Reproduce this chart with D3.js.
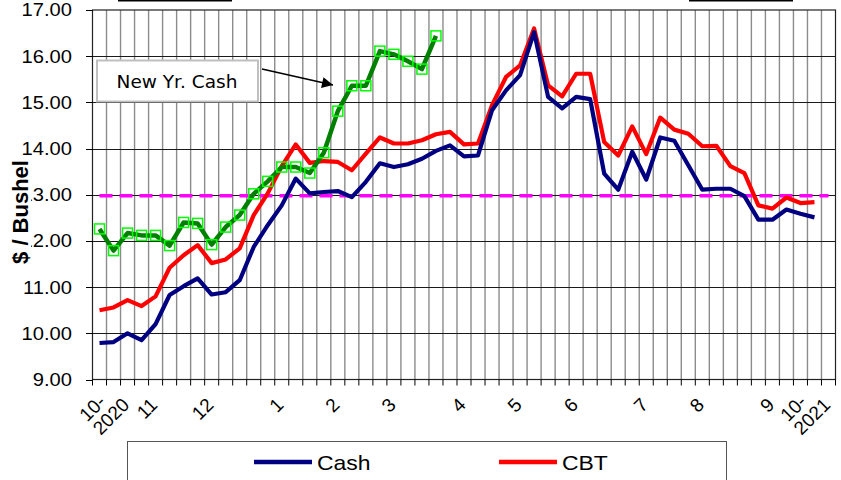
<!DOCTYPE html>
<html>
<head>
<meta charset="utf-8">
<script src="https://cdn.jsdelivr.net/npm/d3@7"></script>
<style>
  html, body { margin: 0; padding: 0; background: #fff; }
  svg { display: block; }
</style>
</head>
<body>
<div id="chart"></div>
<script>
const width = 841;
const height = 480;

// weekly categories, Oct 2020 - Oct 2021
const weeks = d3.range(53);

const cash = [9.79, 9.81, 10.00, 9.85, 10.20, 10.83, 11.02, 11.19, 10.84, 10.89,
  11.15, 11.87, 12.34, 12.77, 13.35, 13.03, 13.06, 13.08, 12.95, 13.28,
  13.68, 13.60, 13.66, 13.78, 13.95, 14.07, 13.83, 13.85, 14.83, 15.26,
  15.59, 16.52, 15.12, 14.87, 15.12, 15.07, 13.46, 13.11, 13.93, 13.33,
  14.24, 14.17, 13.64, 13.11, 13.13, 13.13, 12.97, 12.46, 12.46, 12.68,
  12.59, 12.51];

const cbt = [10.50, 10.56, 10.72, 10.59, 10.80, 11.42, 11.69, 11.91, 11.52, 11.60,
  11.84, 12.56, 13.03, 13.62, 14.09, 13.69, 13.73, 13.71, 13.53, 13.89,
  14.24, 14.11, 14.11, 14.18, 14.31, 14.36, 14.09, 14.11, 14.94, 15.55,
  15.80, 16.60, 15.37, 15.13, 15.62, 15.62, 14.14, 13.85, 14.48, 13.88,
  14.67, 14.41, 14.32, 14.05, 14.06, 13.62, 13.47, 12.77, 12.70, 12.94,
  12.82, 12.84];

const newYrCash = [12.26, 11.79, 12.17, 12.12, 12.12, 11.90, 12.40, 12.38, 11.92, 12.30,
  12.56, 13.02, 13.29, 13.60, 13.60, 13.47, 13.91, 14.81, 15.36, 15.36,
  16.11, 16.04, 15.89, 15.72, 16.44];

const loanRate = 12.98;

const labelWeeks = [2, 4, 8, 13, 17, 21, 26, 30, 34, 39, 43, 48, 52];
const labelText = ["10-2020", "11", "12", "1", "2", "3", "4", "5", "6", "7", "8", "9", "10-2021"];
const yTicks = [9, 10, 11, 12, 13, 14, 15, 16, 17];

const x = d3.scaleBand()
    .domain(weeks)
    .range([92.5, 835.5]);
const y = d3.scaleLinear()
    .domain([9, 17])
    .range([379.5, 10]);
const cx = k => x(k) + x.bandwidth() / 2;
const crisp = v => Math.round(v) + 0.5;

const svg = d3.select("#chart")
  .append("svg")
    .attr("width", width)
    .attr("height", height)
    .style("font-family", "'Liberation Sans', Arial, sans-serif");

svg.append("defs")
  .append("marker")
    .attr("id", "arrow")
    .attr("viewBox", "0 0 10 10")
    .attr("refX", 10)
    .attr("refY", 5)
    .attr("markerUnits", "userSpaceOnUse")
    .attr("markerWidth", 14)
    .attr("markerHeight", 11)
    .attr("orient", "auto")
  .append("path")
    .attr("d", "M0,0L10,5L0,10Z")
    .attr("fill", "#000");

// clipped title underlines at top edge
svg.append("g")
    .attr("stroke", "#000")
    .attr("stroke-width", 1.6)
  .selectAll("line")
  .data([[118, 232], [689, 793]])
  .join("line")
    .attr("x1", d => d[0])
    .attr("x2", d => d[1])
    .attr("y1", 0.8)
    .attr("y2", 0.8);

// vertical gridlines between weeks
svg.append("g")
    .attr("stroke", "#8c8c8c")
    .attr("stroke-width", 1.4)
  .selectAll("line")
  .data(weeks.slice(1))
  .join("line")
    .attr("x1", d => x(d))
    .attr("x2", d => x(d))
    .attr("y1", y(17))
    .attr("y2", y(9));

// horizontal gridlines
svg.append("g")
    .attr("stroke", "#1a1a1a")
    .attr("stroke-width", 1)
  .selectAll("line")
  .data(yTicks.slice(1, -1))
  .join("line")
    .attr("x1", x.range()[0])
    .attr("x2", x.range()[1])
    .attr("y1", d => crisp(y(d)))
    .attr("y2", d => crisp(y(d)));

svg.append("rect")
    .attr("x", x.range()[0])
    .attr("y", y(17))
    .attr("width", x.range()[1] - x.range()[0])
    .attr("height", y(9) - y(17))
    .attr("fill", "none")
    .attr("stroke", "#222")
    .attr("stroke-width", 1.2);

// x ticks
svg.append("g")
    .attr("stroke", "#000")
  .selectAll("line")
  .data(weeks.concat([53]))
  .join("line")
    .attr("x1", d => d < 53 ? x(d) : x.range()[1])
    .attr("x2", d => d < 53 ? x(d) : x.range()[1])
    .attr("y1", y(9))
    .attr("y2", y(9) + 6);

// y ticks + labels
svg.append("g")
    .attr("stroke", "#000")
  .selectAll("line")
  .data(yTicks)
  .join("line")
    .attr("x1", 86)
    .attr("x2", 93)
    .attr("y1", d => crisp(y(d)))
    .attr("y2", d => crisp(y(d)));

svg.append("g")
    .attr("font-size", 18)
    .attr("text-anchor", "end")
    .attr("fill", "#000")
  .selectAll("text")
  .data(yTicks)
  .join("text")
    .attr("transform", d => `translate(72,${y(d)}) scale(1.12,1)`)
    .attr("dy", "0.36em")
    .text(d => d3.format(".2f")(d));

// y axis title on white box
svg.append("rect")
    .attr("x", 4)
    .attr("y", 157)
    .attr("width", 27)
    .attr("height", 113)
    .attr("fill", "#fff");
svg.append("text")
    .attr("transform", "translate(28,212) rotate(-90)")
    .attr("text-anchor", "middle")
    .attr("font-size", 22)
    .attr("font-weight", "bold")
    .text("$ / Bushel");

// x labels
const xl = svg.append("g")
    .attr("font-size", 19)
    .attr("fill", "#000")
  .selectAll("g")
  .data(labelWeeks.map((k, i) => ({k, t: labelText[i]})))
  .join("g")
    .attr("transform", d => `translate(${cx(d.k) + 3},406) rotate(-45)`);

xl.each(function(d) {
  const g = d3.select(this);
  if (d.t.indexOf("-") < 0) {
    g.append("text").attr("text-anchor", "end").text(d.t);
  } else {
    const parts = d.t.split("-");
    const t2 = g.append("text").attr("text-anchor", "end").text(parts[1]);
    const w2 = t2.node().getComputedTextLength();
    g.append("text")
        .attr("x", -w2)
        .attr("y", -19)
        .text(parts[0] + "-");
  }
});

// series
const line = d3.line()
    .x((d, i) => cx(i))
    .y(d => y(d));

svg.append("path")
    .datum(weeks.map(() => loanRate))
    .attr("d", line)
    .attr("fill", "none")
    .attr("stroke", "#ff00ff")
    .attr("stroke-width", 3.5)
    .attr("stroke-dasharray", "13,7");

svg.append("path")
    .datum(cbt)
    .attr("d", line)
    .attr("fill", "none")
    .attr("stroke", "#ff0000")
    .attr("stroke-width", 4.2)
    .attr("stroke-linejoin", "round");

svg.append("path")
    .datum(cash)
    .attr("d", line)
    .attr("fill", "none")
    .attr("stroke", "#000080")
    .attr("stroke-width", 4.2)
    .attr("stroke-linejoin", "round");

svg.append("path")
    .datum(newYrCash)
    .attr("d", line)
    .attr("fill", "none")
    .attr("stroke", "#008000")
    .attr("stroke-width", 4.5)
    .attr("stroke-linejoin", "round");

svg.append("g")
    .attr("fill", "none")
    .attr("stroke", "#00ff00")
    .attr("stroke-width", 1.5)
  .selectAll("rect")
  .data(newYrCash)
  .join("rect")
    .attr("x", (d, i) => cx(i) - 5)
    .attr("y", d => y(d) - 5)
    .attr("width", 10)
    .attr("height", 10);

// annotation
svg.append("rect")
    .attr("x", 97)
    .attr("y", 60.5)
    .attr("width", 161)
    .attr("height", 41)
    .attr("fill", "#fff")
    .attr("stroke", "#c0c0c0")
    .attr("stroke-width", 2);
svg.append("text")
    .attr("x", 177)
    .attr("y", 88)
    .attr("text-anchor", "middle")
    .attr("font-family", "'DejaVu Sans', Verdana, sans-serif")
    .attr("font-size", 18.5)
    .text("New Yr. Cash");
svg.append("line")
    .attr("x1", 262)
    .attr("y1", 69)
    .attr("x2", 333)
    .attr("y2", 85)
    .attr("stroke", "#000")
    .attr("stroke-width", 1.3)
    .attr("marker-end", "url(#arrow)");

// legend
svg.append("rect")
    .attr("x", 127.5)
    .attr("y", 441.5)
    .attr("width", 599)
    .attr("height", 60)
    .attr("fill", "#fff")
    .attr("stroke", "#555");

const legend = svg.append("g")
  .selectAll("g")
  .data([{name: "Cash", color: "#000080", x0: 254}, {name: "CBT", color: "#ff0000", x0: 499}])
  .join("g")
    .attr("transform", d => `translate(${d.x0},462)`);
legend.append("line")
    .attr("x2", 58)
    .attr("stroke", d => d.color)
    .attr("stroke-width", 4.5);
legend.append("text")
    .attr("transform", "translate(63,8) scale(1.12,1)")
    .attr("font-size", 20.5)
    .text(d => d.name);
</script>
</body>
</html>
